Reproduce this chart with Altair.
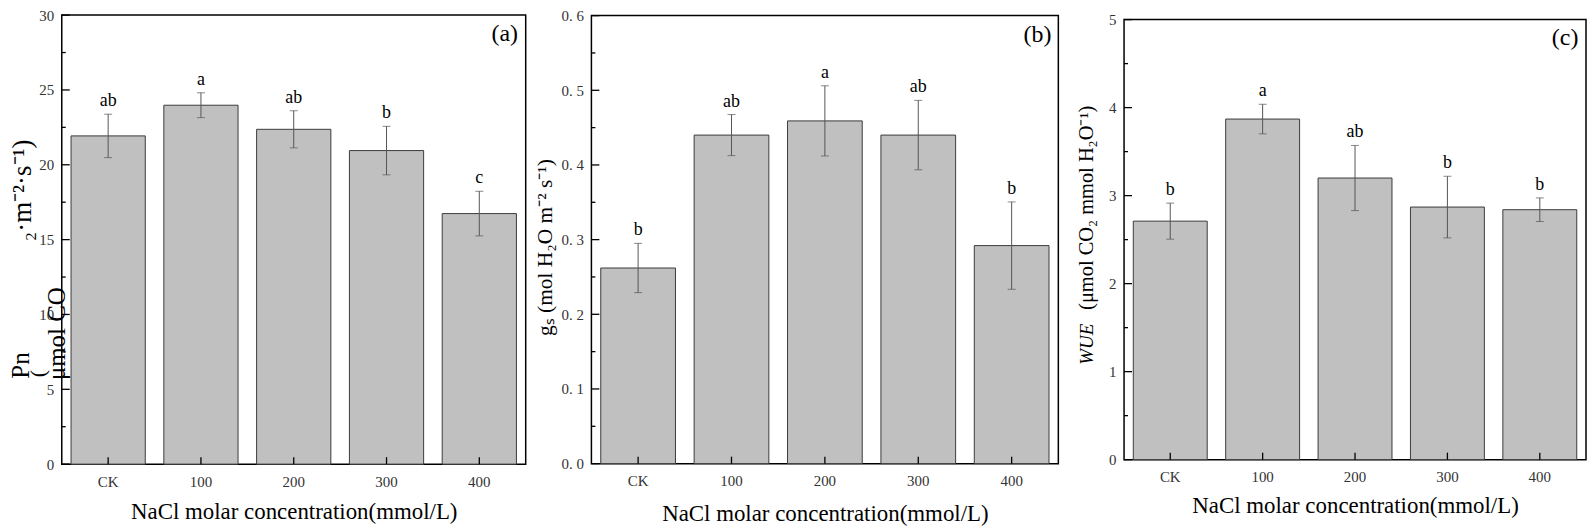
import altair as alt
import pandas as pd

cats = ["CK", "100", "200", "300", "400"]

pn_mean = [21.93, 23.98, 22.37, 20.95, 16.74]
pn_err = [1.45, 0.83, 1.24, 1.62, 1.49]
pn_letter = ["ab", "a", "ab", "b", "c"]

gs_mean = [0.262, 0.440, 0.459, 0.440, 0.292]
gs_err = [0.033, 0.0275, 0.047, 0.0465, 0.0585]
gs_letter = ["b", "ab", "a", "ab", "b"]

wue_mean = [2.71, 3.87, 3.20, 2.87, 2.84]
wue_err = [0.205, 0.168, 0.37, 0.35, 0.134]
wue_letter = ["b", "a", "ab", "b", "b"]

pn_major = [0, 5, 10, 15, 20, 25, 30]
pn_minor = [2.5, 7.5, 12.5, 17.5, 22.5, 27.5]
gs_major = [0.0, 0.1, 0.2, 0.3, 0.4, 0.5, 0.6]
gs_minor = [0.05, 0.15, 0.25, 0.35, 0.45, 0.55]
wue_major = [0, 1, 2, 3, 4, 5]
wue_minor = [0.5, 1.5, 2.5, 3.5, 4.5]

x_title = "NaCl molar concentration(mmol/L)"
tags = ["(a)", "(b)", "(c)"]

# y-title pieces: (text, dx, dy, size, angle, style)
pn_title = [
    ("Pn", -41, 352, 25, 270, "normal"),
    ("(", -24, 360, 22, 270, "normal"),
    ("μmol CO", -5, 320, 25, 270, "normal"),
    ("₂·m⁻²·s⁻¹)", -39, 176, 27, 270, "normal"),
]
gs_title = [
    ("gₛ (mol H₂O m⁻² s⁻¹)", -45.5, 233, 21.5, 270, "normal"),
]
wue_title = [
    ("WUE", -37, 326, 19, 270, "italic"),
    ("(μmol CO₂ mmol H₂O⁻¹)", -37, 189, 20.5, 270, "normal"),
]

SERIF = "Liberation Serif"


def panel(mean, err, letters, ymax, major, minor, label_expr, W, H, tag,
          title_pieces, title_pad):
    df = pd.DataFrame({
        "cat": cats,
        "v": mean,
        "lo": [m - e for m, e in zip(mean, err)],
        "hi": [m + e for m, e in zip(mean, err)],
        "letter": letters,
    })
    xs = alt.Scale(domain=cats, paddingInner=0.2, paddingOuter=0.1)
    xa = alt.Axis(title=x_title, labelAngle=0, ticks=False, domain=False,
                  grid=False, labelPadding=10, labelFont=SERIF,
                  labelFontSize=15, labelColor="#333", titleFont=SERIF,
                  titleFontSize=23, titleFontWeight="normal",
                  titleColor="#000", titlePadding=title_pad)
    ys = alt.Scale(domain=[0, ymax], nice=False, zero=True)
    ya = alt.Axis(title=None, values=major, labelExpr=label_expr, ticks=False,
                  domain=False, grid=False, labelPadding=8, labelFont=SERIF,
                  labelFontSize=15, labelColor="#333")

    def X():
        return alt.X("cat:N", sort=cats, scale=xs, axis=xa)

    def Y(f):
        return alt.Y(f, scale=ys, axis=ya)

    base = alt.Chart(df)
    bars = base.mark_bar(fill="#c0c0c0", stroke="#3a3a3a",
                         strokeWidth=1).encode(x=X(), y=Y("v:Q"))
    rule = base.mark_rule(color="#555", strokeWidth=1).encode(
        x=X(), y=Y("lo:Q"), y2="hi:Q")
    cap_lo = base.mark_tick(color="#555", size=8, thickness=1).encode(
        x=X(), y=Y("lo:Q"))
    cap_hi = base.mark_tick(color="#555", size=8, thickness=1).encode(
        x=X(), y=Y("hi:Q"))
    lett = base.mark_text(font=SERIF, fontSize=18, baseline="bottom", dy=-4,
                          color="#000").encode(x=X(), y=Y("hi:Q"),
                                               text="letter:N")
    xt = base.mark_rule(color="#000", strokeWidth=1.3).encode(
        x=X(), y=alt.value(H - 7), y2=alt.value(H))
    ymaj = alt.Chart(pd.DataFrame({"t": major})).mark_rule(
        color="#000", strokeWidth=1.3).encode(
        y=Y("t:Q"), x=alt.value(0), x2=alt.value(8))
    ymin = alt.Chart(pd.DataFrame({"t": minor})).mark_rule(
        color="#000", strokeWidth=1.3).encode(
        y=Y("t:Q"), x=alt.value(0), x2=alt.value(4))
    tg = alt.Chart(pd.DataFrame({"t": [tag]})).mark_text(
        font=SERIF, fontSize=24, align="center", baseline="middle",
        color="#000").encode(x=alt.value(W - 21), y=alt.value(19),
                             text="t:N")
    layers = [bars, rule, cap_lo, cap_hi, lett, xt, ymaj, ymin, tg]
    for (txt, dx, dy, fs, ang, style) in title_pieces:
        layers.append(alt.Chart(pd.DataFrame({"t": [txt]})).mark_text(
            font=SERIF, fontSize=fs, angle=ang, fontStyle=style,
            align="center", baseline="middle", color="#000").encode(
            x=alt.value(dx), y=alt.value(dy), text="t:N"))
    return alt.layer(*layers).properties(width=W, height=H)


pa = panel(pn_mean, pn_err, pn_letter, 30, pn_major, pn_minor,
           "format(datum.value, 'd')", 466, 451, tags[0], pn_title, 12)
pb = panel(gs_mean, gs_err, gs_letter, 0.6, gs_major, gs_minor,
           "replace(format(datum.value, '.1f'), '.', '. ')", 469, 450,
           tags[1], gs_title, 14)
pc = panel(wue_mean, wue_err, wue_letter, 5, wue_major, wue_minor,
           "format(datum.value, 'd')", 464, 442, tags[2], wue_title, 10)

chart = alt.hconcat(pa, pb, pc, spacing=66, center=True,
                    bounds="flush").properties(
    padding={"left": 0, "top": -2, "right": 0, "bottom": 0},
    background="white",
).configure_view(stroke="#000", strokeWidth=1.5)

chart.save("out.html", embed_options={"renderer": "svg", "actions": False})
